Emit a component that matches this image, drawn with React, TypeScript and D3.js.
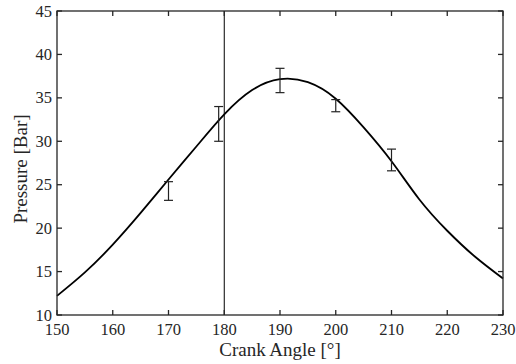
import React from "react";
import * as d3 from "d3";

const curveAngle = [150, 155, 160, 165, 170, 175, 180, 185, 190, 195, 200, 205, 210, 215, 220, 225, 230];
const curvePressure = [12.2, 14.9, 18.1, 21.75, 25.6, 29.4, 33.1, 35.9, 37.15, 36.8, 34.9, 31.6, 27.7, 23.3, 19.7, 16.7, 14.2];

const errAngle = [170, 179, 190, 200, 210];
const errLow = [23.2, 30.0, 35.6, 33.4, 26.6];
const errHigh = [25.35, 34.0, 38.4, 34.8, 29.1];

const xTicks = [150, 160, 170, 180, 190, 200, 210, 220, 230];
const yTicks = [10, 15, 20, 25, 30, 35, 40, 45];
const markerAngle = 180;

const W = 516, H = 364;
const L = 57, R = 503, T = 11, B = 315;
const FONT = '"Liberation Serif", "DejaVu Serif", serif';

export default function App() {
  const x = d3.scaleLinear().domain([150, 230]).range([L, R]);
  const y = d3.scaleLinear().domain([10, 45]).range([B, T]);
  const pts: [number, number][] = curveAngle.map((a, i) => [a, curvePressure[i]]);
  const line = d3.line<[number, number]>().x(d => x(d[0])).y(d => y(d[1])).curve(d3.curveNatural);
  const axisColor = "#262626";
  const tick = 5;
  const txt = { fontFamily: FONT, fill: "#262626" } as React.CSSProperties;
  return (
    <svg width={W} height={H} style={{ position: "absolute", left: 0, top: 0 }}>
      <rect x={0} y={0} width={W} height={H} fill="white" />
      <path d={line(pts) || ""} fill="none" stroke="black" strokeWidth={1.8} />
      <line x1={x(markerAngle)} x2={x(markerAngle)} y1={T} y2={B} stroke="black" strokeWidth={1} />
      {errAngle.map((a, i) => (
        <g key={a} stroke="#222" strokeWidth={1.2}>
          <line x1={x(a)} x2={x(a)} y1={y(errLow[i])} y2={y(errHigh[i])} />
          <line x1={x(a) - 4.5} x2={x(a) + 4.5} y1={y(errLow[i])} y2={y(errLow[i])} />
          <line x1={x(a) - 4.5} x2={x(a) + 4.5} y1={y(errHigh[i])} y2={y(errHigh[i])} />
        </g>
      ))}
      <rect x={L} y={T} width={R - L} height={B - T} fill="none" stroke={axisColor} strokeWidth={1.3} />
      {xTicks.map(t => (
        <g key={"x" + t}>
          <line x1={x(t)} x2={x(t)} y1={B} y2={B - tick} stroke={axisColor} strokeWidth={1.3} />
          <line x1={x(t)} x2={x(t)} y1={T} y2={T + tick} stroke={axisColor} strokeWidth={1.3} />
          <text x={x(t)} y={335} textAnchor="middle" fontSize={16.5} style={txt}>{t}</text>
        </g>
      ))}
      {yTicks.map(t => (
        <g key={"y" + t}>
          <line x1={L} x2={L + tick} y1={y(t)} y2={y(t)} stroke={axisColor} strokeWidth={1.3} />
          <line x1={R} x2={R - tick} y1={y(t)} y2={y(t)} stroke={axisColor} strokeWidth={1.3} />
          <text x={52} y={y(t) + 5.5} textAnchor="end" fontSize={16.5} style={txt}>{t}</text>
        </g>
      ))}
      <text x={(L + R) / 2} y={356} textAnchor="middle" fontSize={19} style={txt}>Crank Angle [°]</text>
      <text transform={`translate(27, ${(T + B) / 2 + 6}) rotate(-90)`} textAnchor="middle" fontSize={19} style={txt}>Pressure [Bar]</text>
    </svg>
  );
}
